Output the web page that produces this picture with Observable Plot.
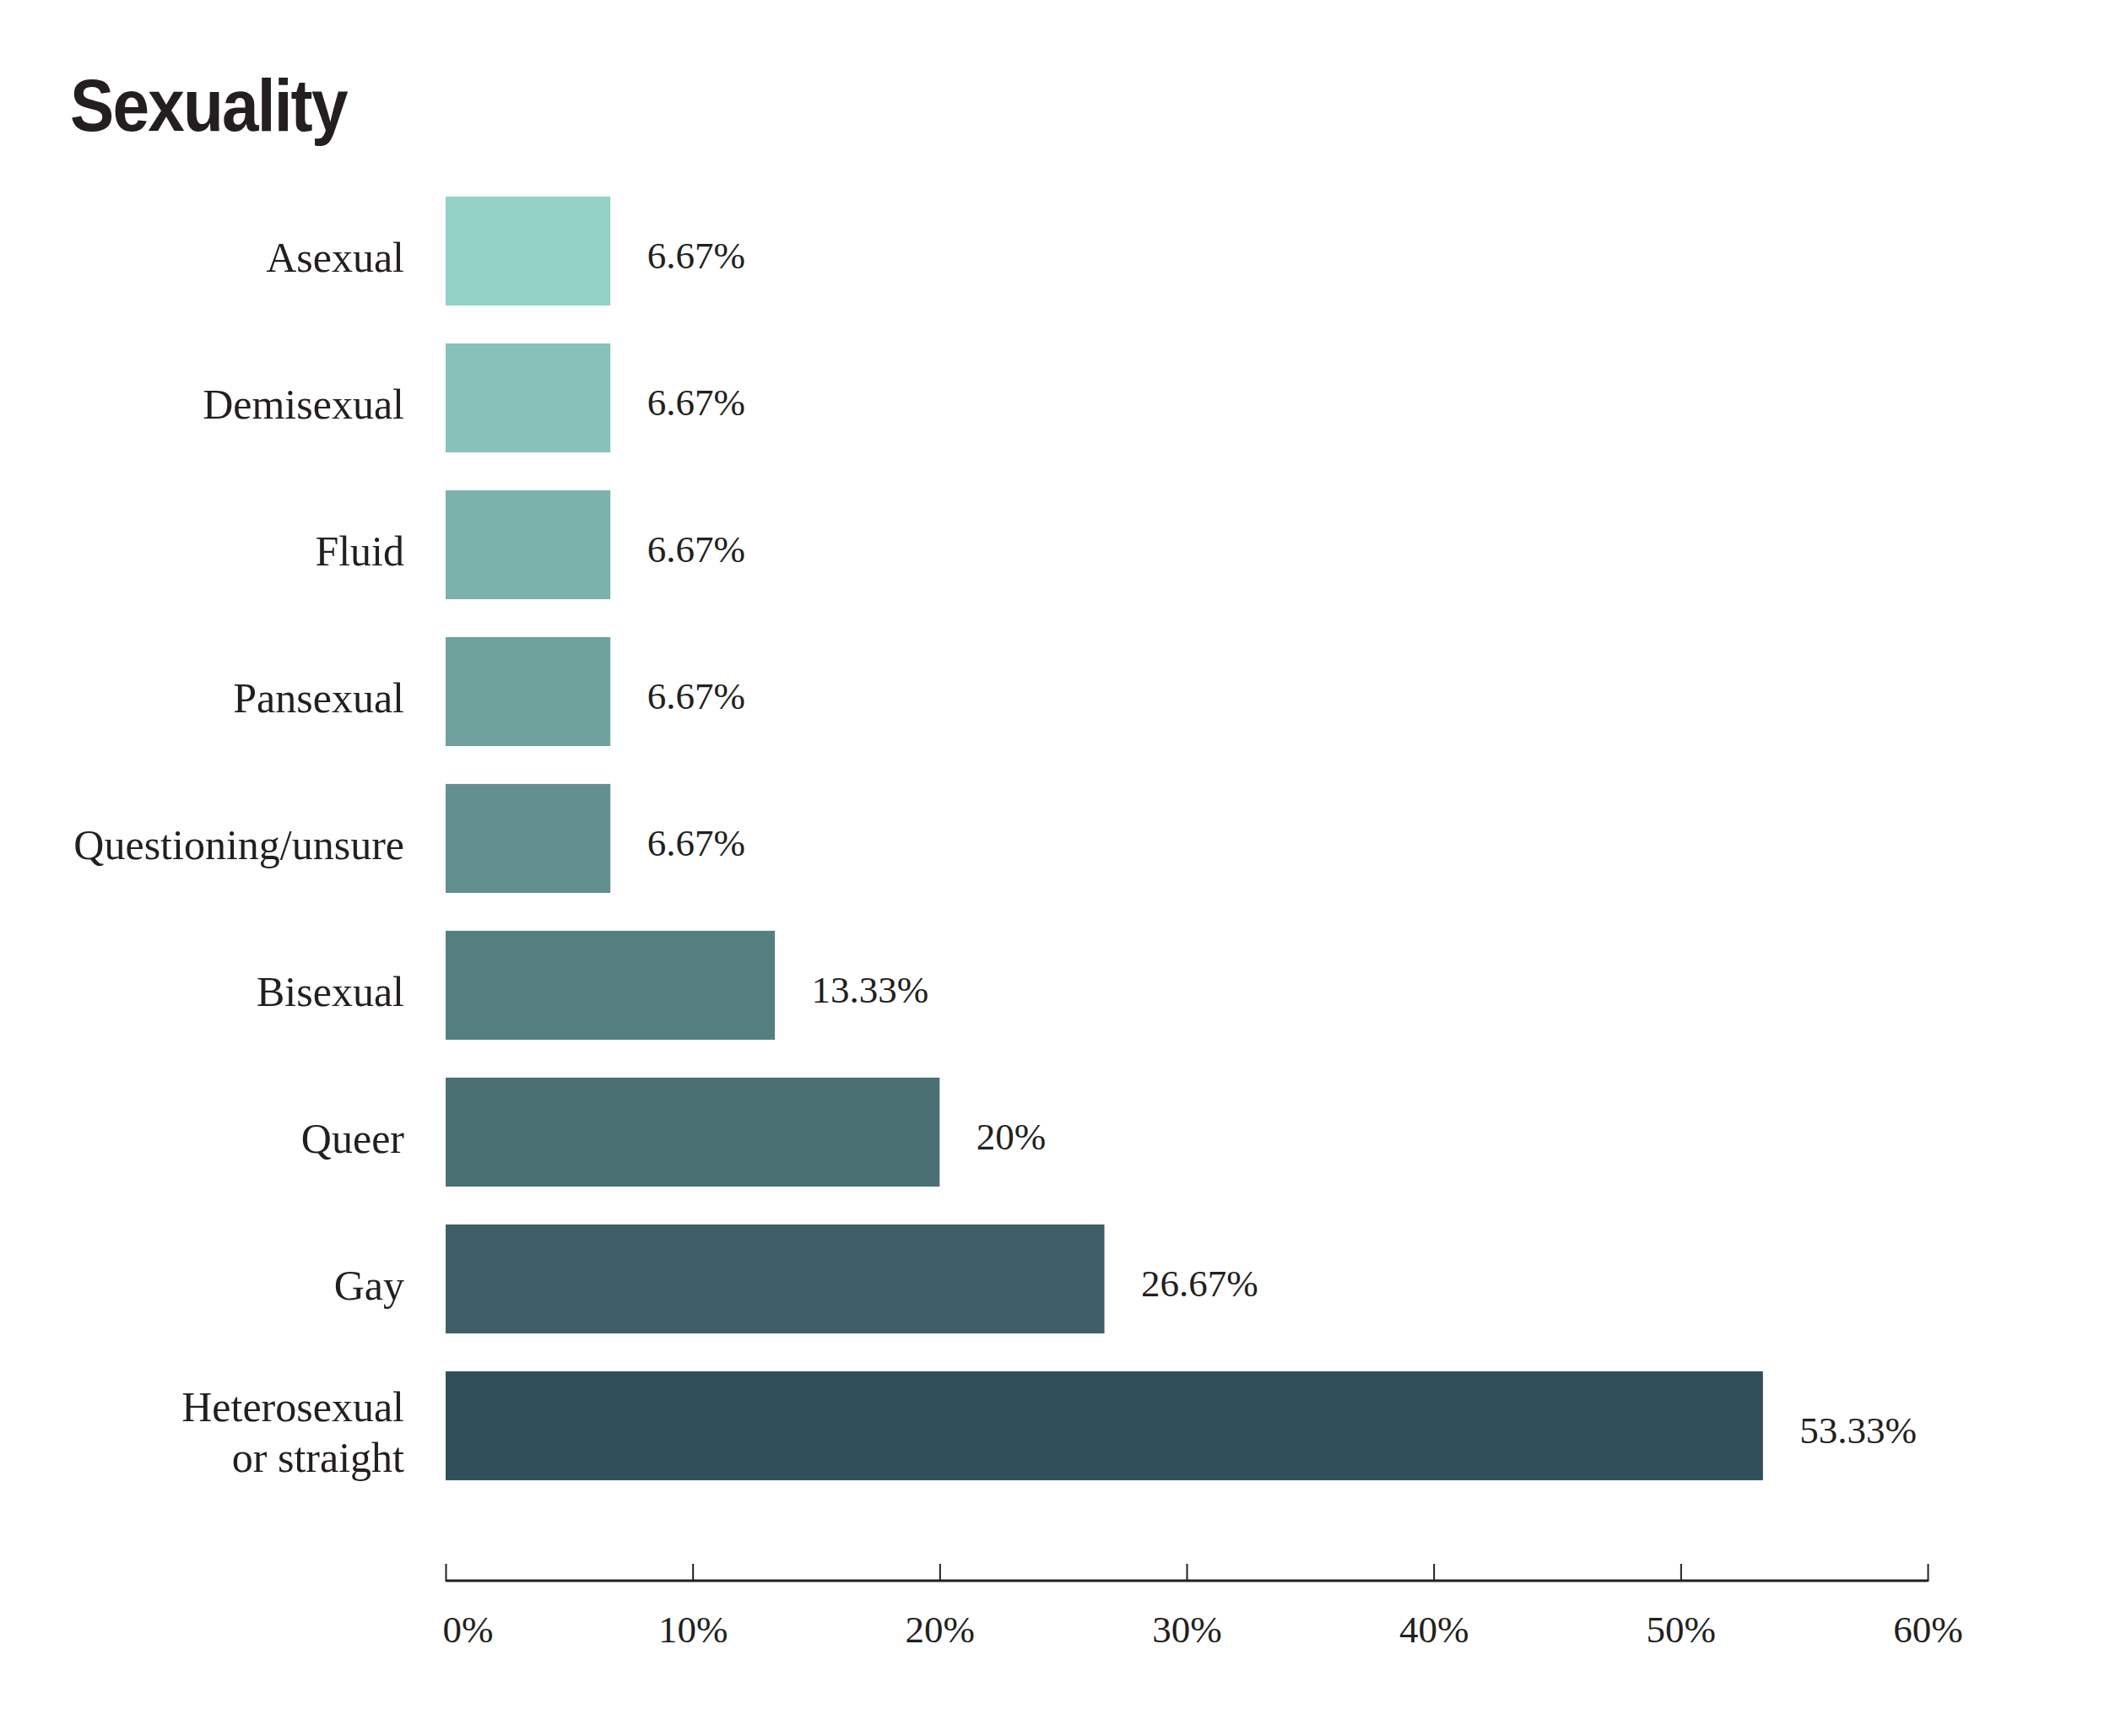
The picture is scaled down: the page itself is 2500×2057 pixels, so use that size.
<!DOCTYPE html>
<html>
<head>
<meta charset="utf-8">
<script src="https://cdn.jsdelivr.net/npm/d3@7"></script>
<script src="https://cdn.jsdelivr.net/npm/@observablehq/plot@0.6"></script>
<style>
  html, body { margin: 0; padding: 0; background: #ffffff; }
  #header { position: relative; height: 200px; width: 2500px; }
  #header h1 {
    position: absolute; left: 83px; top: 0; margin: 0; padding-top: 81px;
    font-family: "Liberation Sans", Arial, sans-serif; font-weight: 700;
    font-size: 87px; line-height: 1; letter-spacing: -2px; color: #231f20;
    transform: scaleX(0.9); transform-origin: left top; white-space: nowrap;
  }
  #chart svg { display: block; }
</style>
</head>
<body>
<div id="header"><h1>Sexuality</h1></div>
<div id="chart"></div>
<script>
const categories = ["Asexual", "Demisexual", "Fluid", "Pansexual", "Questioning/unsure", "Bisexual", "Queer", "Gay", "Heterosexual\nor straight"];
const values = [6.67, 6.67, 6.67, 6.67, 6.67, 13.33, 20, 26.67, 53.33];
const colors = ["#94d1c7", "#87c1b9", "#7cb2ac", "#6fa29d", "#62908f", "#557f7f", "#4a7074", "#3e5f68", "#314f5a"];
const xTicks = [0, 10, 20, 30, 40, 50, 60];

const data = categories.map((c, i) => ({category: c, value: values[i], color: colors[i]}));

const W = 2500, H = 1857;
const mTop = 10.5, mBottom = 183, mLeft = 528, mRight = 216;
const frameH = H - mTop - mBottom;
const font = "'Liberation Serif', 'Times New Roman', serif";
const ink = "#231f20";

const chart = Plot.plot({
  width: W,
  height: H,
  marginTop: mTop,
  marginBottom: mBottom,
  marginLeft: mLeft,
  marginRight: mRight,
  style: {fontFamily: font, background: "#ffffff", color: ink},
  x: {domain: [0, 60], axis: null},
  y: {domain: categories, axis: null, round: false, paddingInner: 0.258, paddingOuter: 0.129, insetBottom: 97.6},
  marks: [
    Plot.barX(data, {x: "value", y: "category", fill: "color"}),
    Plot.text(data, {x: 0, y: "category", text: "category", textAnchor: "end", dx: -49.5, dy: 5,
      fontSize: 50, lineHeight: 1.2, lineAnchor: "middle", fill: ink}),
    Plot.text(data, {x: "value", y: "category", text: d => `${d.value}%`, textAnchor: "start", dx: 43, dy: 6,
      fontSize: 45, lineAnchor: "middle", fill: ink}),
    // axis baseline
    Plot.rect([0], {x1: 0, x2: 60, insetTop: frameH - 2.5, insetBottom: -0.5, fill: ink}),
    // ticks pointing up
    Plot.ruleX(xTicks, {x: d => d, insetTop: frameH - 21, stroke: ink, strokeWidth: 2}),
    // tick labels
    Plot.text(xTicks.filter(d => d === 0), {x: d => d, frameAnchor: "bottom", lineAnchor: "middle", dy: 57.5,
      text: d => `${d}%`, textAnchor: "start", dx: -4, fontSize: 45, fill: ink}),
    Plot.text(xTicks.filter(d => d !== 0), {x: d => d, frameAnchor: "bottom", lineAnchor: "middle", dy: 57.5,
      text: d => `${d}%`, textAnchor: "middle", fontSize: 45, fill: ink})
  ]
});
document.getElementById("chart").appendChild(chart);
</script>
</body>
</html>
